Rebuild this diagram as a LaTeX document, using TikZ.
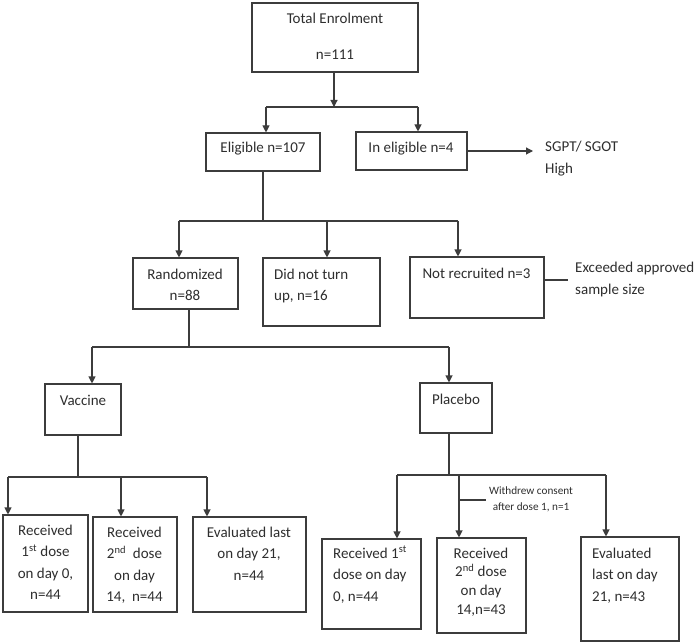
\documentclass[tikz,border=0pt]{standalone}
\usepackage{fontspec}
\setmainfont{Carlito}
\usetikzlibrary{arrows.meta,fit}
\definecolor{lc}{HTML}{3C3C3C}
\definecolor{tc}{HTML}{2E2E2E}
\begin{document}
\begin{tikzpicture}[x=1pt,y=-1pt,
  box/.style={draw=lc,line width=1.1pt,inner sep=0pt},
  ln/.style={draw=lc,line width=1.1pt},
  arr/.style={ln,-{Triangle[length=7pt,width=7pt]}},
  txt/.style={text=tc,inner sep=0pt,anchor=base,font=\fontsize{15}{21.5}\selectfont},
  txtl/.style={txt,anchor=base west},
  small/.style={text=tc,inner sep=0pt,anchor=base,font=\fontsize{11.2}{16}\selectfont}]
\renewcommand{\arraystretch}{1}
\useasboundingbox[fill=white] (0,0) rectangle (698,644);
% boxes
\node[box,fit={(252,3)(418,72)}] (tot) {};
\node[box,fit={(206,133)(320,171)}] (el) {};
\node[box,fit={(356,132)(467,170)}] (inel) {};
\node[box,fit={(133,258)(238,309)}] (rand) {};
\node[box,fit={(263,258)(380,326)}] (dnt) {};
\node[box,fit={(410,257)(544,318)}] (nr) {};
\node[box,fit={(45,384)(121,435)}] (vac) {};
\node[box,fit={(420,383)(492,433)}] (plac) {};
\node[box,fit={(3,515)(88,612)}] (va) {};
\node[box,fit={(93,517)(177,612)}] (vb) {};
\node[box,fit={(193,517)(306,612)}] (vc) {};
\node[box,fit={(322,539)(421,629)}] (pa) {};
\node[box,fit={(437,538)(526,633)}] (pb) {};
\node[box,fit={(581,537)(679,641)}] (pc) {};
% texts
\node[txt] (ttot) at (335,24) {\fontsize{15}{36}\selectfont\begin{tabular}[t]{@{}c@{}}Total Enrolment\\n=111\end{tabular}};
\node[txt] (tel) at (263,153) {Eligible n=107};
\node[txt] (tinel) at (411,153) {In eligible n=4};
\node[txtl] (tsg) at (545,152) {\fontsize{15}{22}\selectfont\begin{tabular}[t]{@{}l@{}}SGPT/ SGOT\\High\end{tabular}};
\node[txt] (trand) at (185,279) {\begin{tabular}[t]{@{}c@{}}Randomized\\n=88\end{tabular}};
\node[txtl] (tdnt) at (274,279) {\begin{tabular}[t]{@{}l@{}}Did not turn\\up, n=16\end{tabular}};
\node[txt] (tnr) at (476.5,278) {Not recruited n=3};
\node[txtl] (texc) at (575,272.5) {\begin{tabular}[t]{@{}l@{}}Exceeded approved\\sample size\end{tabular}};
\node[txt] (tvac) at (83,405) {Vaccine};
\node[txt] (tplac) at (456,404) {Placebo};
\node[txt] (tva) at (45.5,535) {\begin{tabular}[t]{@{}c@{}}Received\\1\textsuperscript{st} dose\\on day 0,\\n=44\end{tabular}};
\node[txt] (tvb) at (134.5,537) {\begin{tabular}[t]{@{}c@{}}Received\\2\textsuperscript{nd}\ \ dose\\on day\\14,\ \ n=44\end{tabular}};
\node[txt] (tvc) at (249,537) {\begin{tabular}[t]{@{}c@{}}Evaluated last\\on day 21,\\n=44\end{tabular}};
\node[txtl] (tpa) at (333,558) {\begin{tabular}[t]{@{}l@{}}Received 1\textsuperscript{st}\\dose on day\\0, n=44\end{tabular}};
\node[txt] (tpb) at (481,558) {\fontsize{15}{18.8}\selectfont\begin{tabular}[t]{@{}c@{}}Received\\2\textsuperscript{nd} dose\\on day\\14,n=43\end{tabular}};
\node[txtl] (tpc) at (592,558) {\begin{tabular}[t]{@{}l@{}}Evaluated\\last on day\\21, n=43\end{tabular}};
\node[small] (twd) at (531,494) {\begin{tabular}[t]{@{}c@{}}Withdrew consent\\after dose 1, n=1\end{tabular}};
% junctions
\coordinate (j1) at (334,107);
\coordinate (j1l) at (266,107);
\coordinate (j1r) at (418,107);
\coordinate (sgp) at (533,151);
\coordinate (j2) at (263,221);
\coordinate (j2l) at (179,221);
\coordinate (j2m) at (327,221);
\coordinate (j2r) at (458,221);
\coordinate (exc) at (568,280);
\coordinate (j3) at (189,347);
\coordinate (j3l) at (92,347);
\coordinate (j3r) at (449,347);
\coordinate (j4) at (78,477);
\coordinate (j4l) at (8,477);
\coordinate (j4m) at (121,477);
\coordinate (j4r) at (207,477);
\coordinate (j5) at (449,475);
\coordinate (j5l) at (397,475);
\coordinate (j5m) at (459,475);
\coordinate (j5r) at (606,475);
\coordinate (wd) at (486,500);
% connectors
\draw[arr] (tot.south -| j1) -- (j1);
\draw[ln] (j1l) -- (j1r);
\draw[arr] (j1l) -- (j1l |- el.north);
\draw[arr] (j1r) -- (j1r |- inel.north);
\draw[arr] (inel.east) -- (sgp);
\draw[ln] (el.south -| j2) -- (j2);
\draw[ln] (j2l) -- (j2r);
\draw[arr] (j2l) -- (j2l |- rand.north);
\draw[arr] (j2m) -- (j2m |- dnt.north);
\draw[arr] (j2r) -- (j2r |- nr.north);
\draw[ln] (exc -| nr.east) -- (exc);
\draw[ln] (rand.south -| j3) -- (j3);
\draw[ln] (j3l) -- (j3r);
\draw[arr] (j3l) -- (j3l |- vac.north);
\draw[arr] (j3r) -- (j3r |- plac.north);
\draw[ln] (vac.south -| j4) -- (j4);
\draw[ln] (j4l) -- (j4r);
\draw[arr] (j4l) -- (j4l |- va.north);
\draw[arr] (j4m) -- (j4m |- vb.north);
\draw[arr] (j4r) -- (j4r |- vc.north);
\draw[ln] (plac.south -| j5) -- (j5);
\draw[ln] (j5l) -- (j5r);
\draw[arr] (j5l) -- (j5l |- pa.north);
\draw[arr] (j5m) -- (j5m |- pb.north);
\draw[arr] (j5r) -- (j5r |- pc.north);
\draw[ln] (j5m |- wd) -- (wd);
\end{tikzpicture}
\end{document}
